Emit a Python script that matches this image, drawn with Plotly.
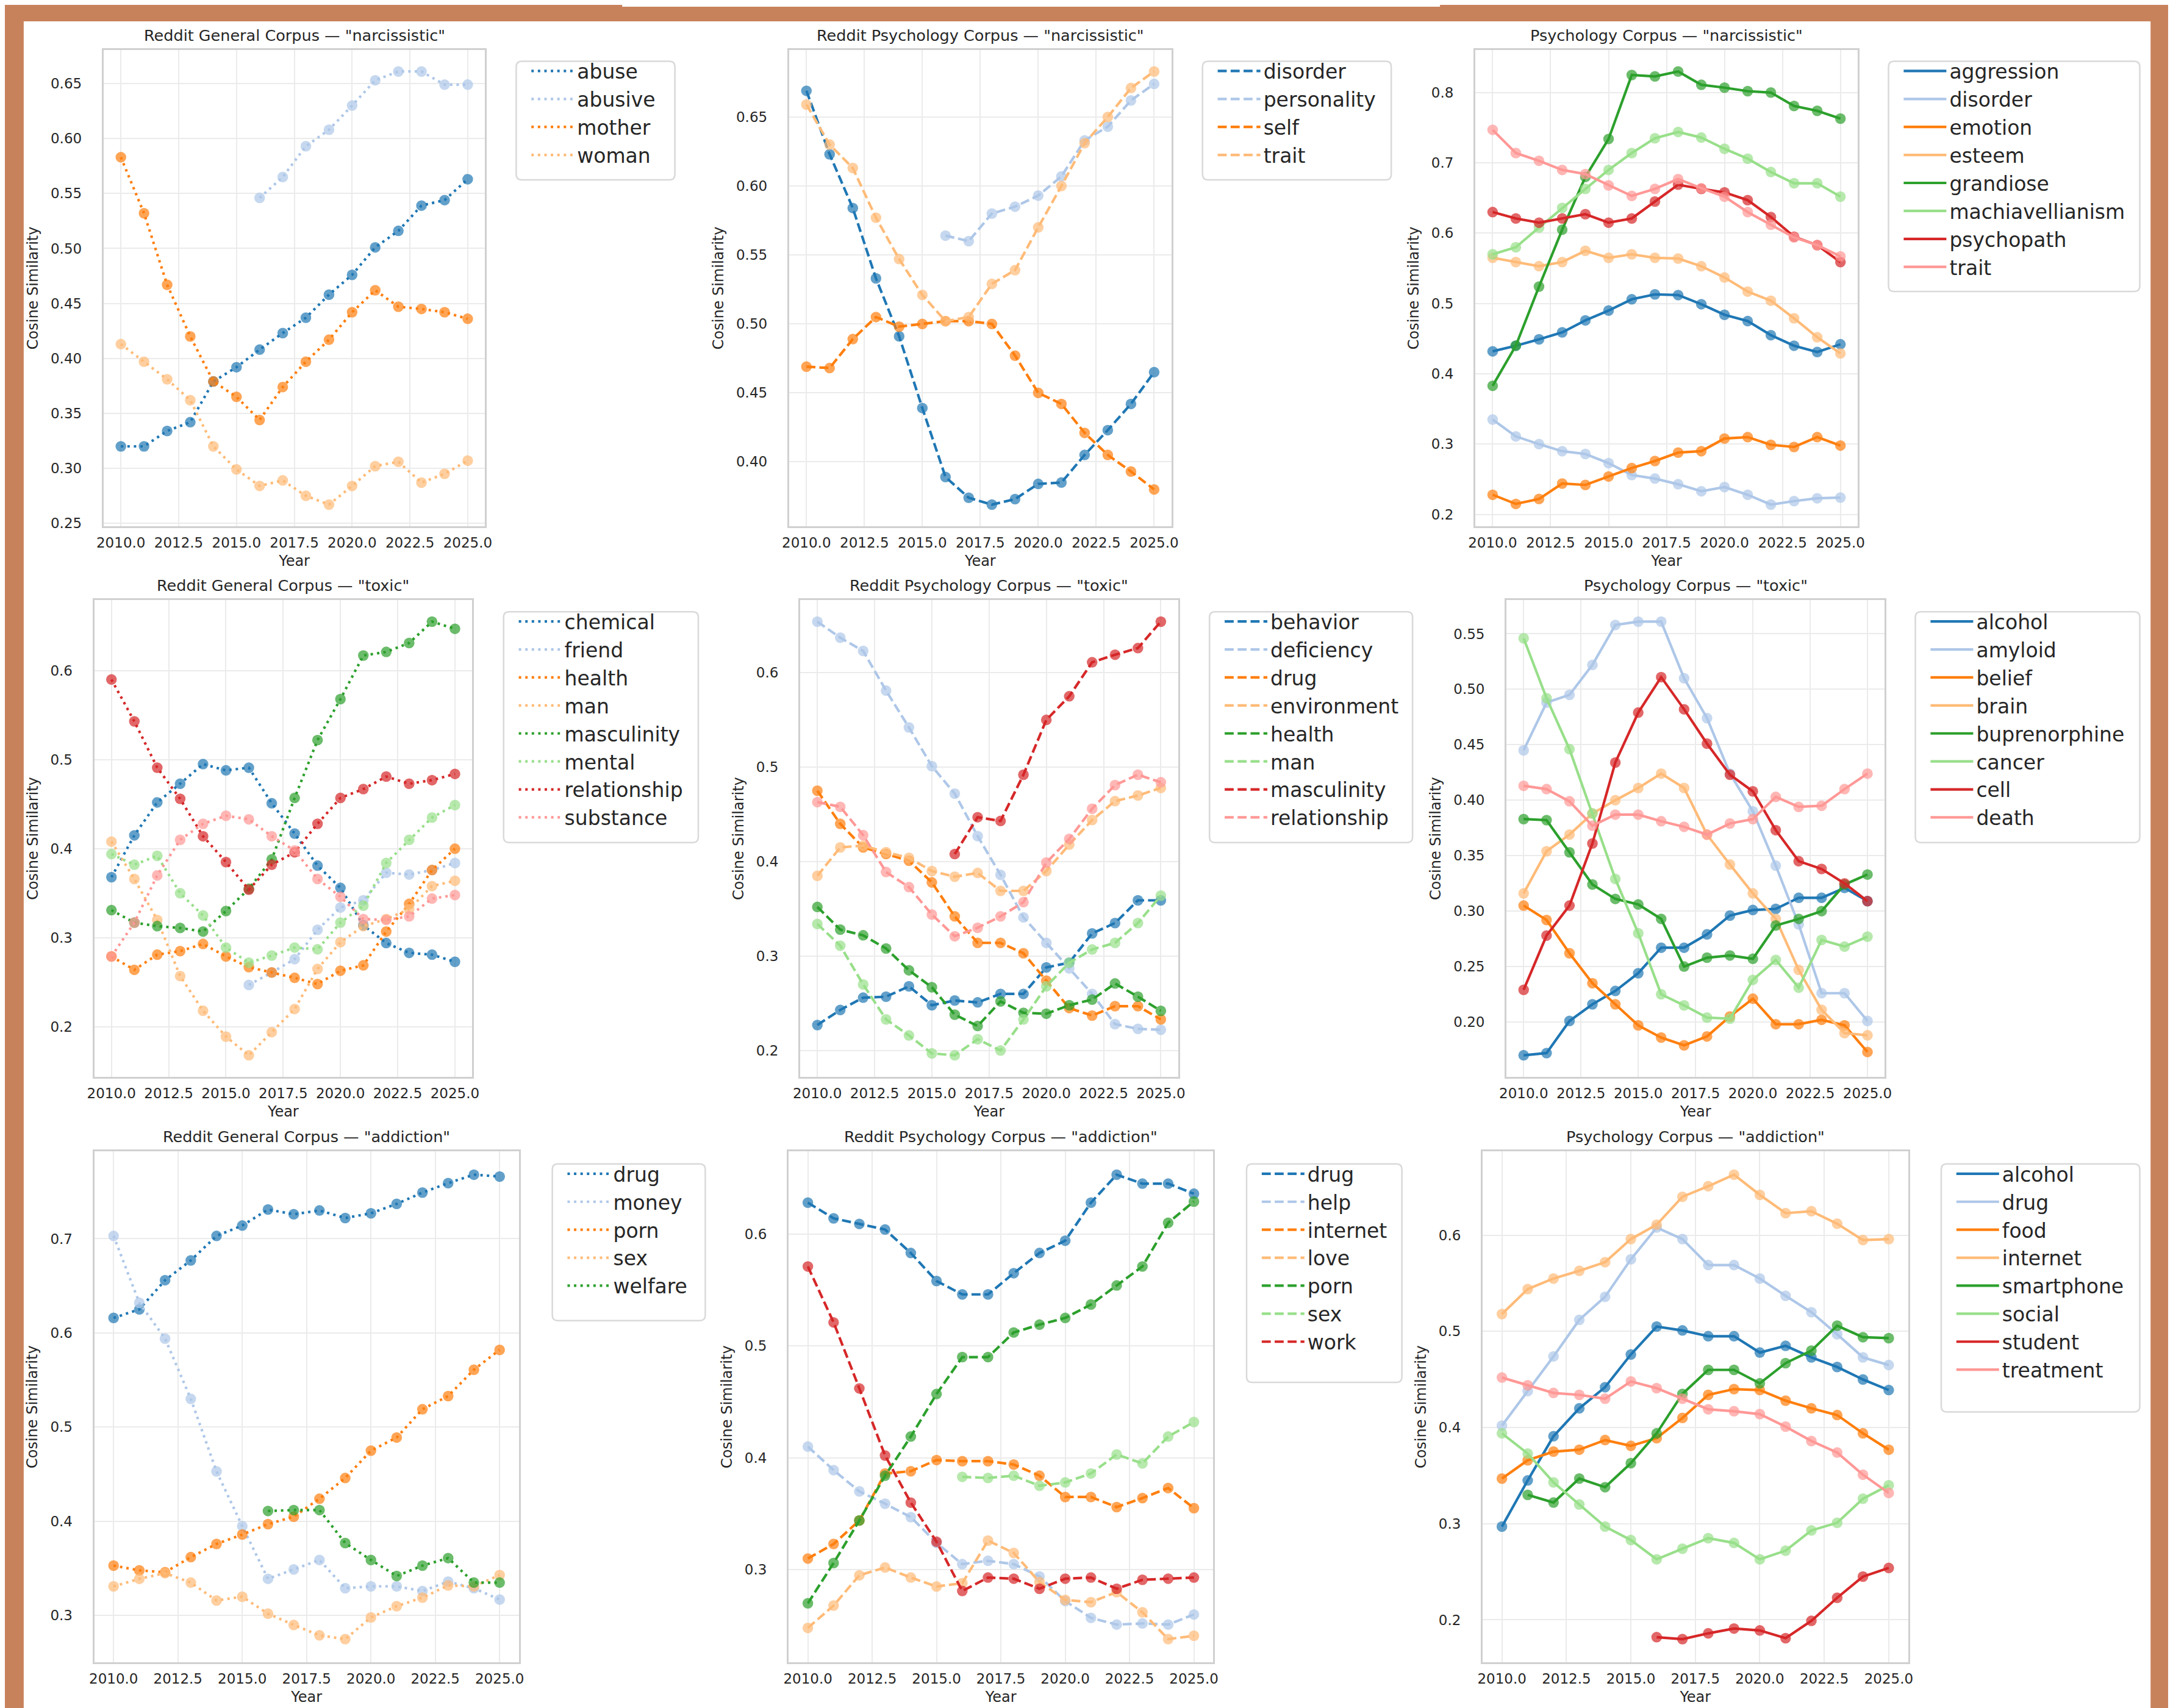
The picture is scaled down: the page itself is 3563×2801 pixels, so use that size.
import plotly.graph_objects as go

W, H = 3563, 2801
N = None

YEARS = list(range(2010, 2026))
X_TICKS = [2010.0, 2012.5, 2015.0, 2017.5, 2020.0, 2022.5, 2025.0]
X_TICK_LABELS = ["2010.0", "2012.5", "2015.0", "2017.5", "2020.0", "2022.5", "2025.0"]
COLORS = ["#1f77b4", "#aec7e8", "#ff7f0e", "#ffbb78", "#2ca02c", "#98df8a", "#d62728", "#ff9896"]

# ---------------- Reddit General Corpus — "narcissistic"
GN_TERMS = ["abuse", "abusive", "mother", "woman"]
GN_ABUSE = [0.320, 0.320, 0.334, 0.342, 0.379, 0.392, 0.408, 0.423, 0.437, 0.458, 0.476, 0.501, 0.516, 0.539, 0.544, 0.563]
GN_ABUSIVE = [N, N, N, N, N, N, 0.546, 0.565, 0.593, 0.608, 0.630, 0.653, 0.661, 0.661, 0.649, 0.649]
GN_MOTHER = [0.583, 0.532, 0.467, 0.420, 0.379, 0.365, 0.344, 0.374, 0.397, 0.417, 0.442, 0.462, 0.447, 0.445, 0.442, 0.436]
GN_WOMAN = [0.413, 0.397, 0.381, 0.362, 0.320, 0.299, 0.284, 0.289, 0.275, 0.267, 0.284, 0.302, 0.306, 0.287, 0.295, 0.307]
GN_YTICKS = [0.25, 0.30, 0.35, 0.40, 0.45, 0.50, 0.55, 0.60, 0.65]

# ---------------- Reddit Psychology Corpus — "narcissistic"
RN_TERMS = ["disorder", "personality", "self", "trait"]
RN_DISORDER = [0.669, 0.623, 0.584, 0.533, 0.491, 0.439, 0.389, 0.374, 0.369, 0.373, 0.384, 0.385, 0.405, 0.423, 0.442, 0.465]
RN_PERSONALITY = [N, N, N, N, N, N, 0.564, 0.560, 0.580, 0.585, 0.593, 0.607, 0.633, 0.643, 0.662, 0.674]
RN_SELF = [0.469, 0.468, 0.489, 0.505, 0.498, 0.500, 0.502, 0.502, 0.500, 0.477, 0.450, 0.442, 0.421, 0.405, 0.393, 0.380]
RN_TRAIT = [0.659, 0.630, 0.613, 0.577, 0.547, 0.521, 0.502, 0.505, 0.529, 0.539, 0.570, 0.600, 0.631, 0.650, 0.671, 0.683]
RN_YTICKS = [0.40, 0.45, 0.50, 0.55, 0.60, 0.65]

# ---------------- Psychology Corpus — "narcissistic"
PN_TERMS = ["aggression", "disorder", "emotion", "esteem", "grandiose", "machiavellianism", "psychopath", "trait"]
PN_AGGRESSION = [0.432, 0.440, 0.449, 0.459, 0.476, 0.490, 0.506, 0.513, 0.512, 0.499, 0.484, 0.475, 0.455, 0.440, 0.431, 0.442]
PN_DISORDER = [0.335, 0.311, 0.300, 0.290, 0.286, 0.273, 0.256, 0.251, 0.243, 0.233, 0.239, 0.228, 0.214, 0.219, 0.223, 0.224]
PN_EMOTION = [0.228, 0.215, 0.222, 0.244, 0.242, 0.254, 0.266, 0.276, 0.288, 0.290, 0.308, 0.310, 0.299, 0.296, 0.310, 0.298]
PN_ESTEEM = [0.565, 0.559, 0.553, 0.559, 0.575, 0.565, 0.570, 0.565, 0.564, 0.553, 0.537, 0.517, 0.504, 0.479, 0.452, 0.429]
PN_GRANDIOSE = [0.383, 0.440, 0.524, 0.605, 0.680, 0.734, 0.825, 0.823, 0.830, 0.811, 0.807, 0.802, 0.800, 0.781, 0.774, 0.763]
PN_MACHIAVELLIANISM = [0.570, 0.580, 0.608, 0.636, 0.663, 0.690, 0.714, 0.735, 0.744, 0.736, 0.720, 0.706, 0.687, 0.671, 0.671, 0.652]
PN_PSYCHOPATH = [0.630, 0.621, 0.615, 0.621, 0.627, 0.615, 0.621, 0.645, 0.669, 0.663, 0.658, 0.647, 0.623, 0.595, 0.583, 0.559]
PN_TRAIT = [0.747, 0.714, 0.703, 0.690, 0.684, 0.668, 0.653, 0.663, 0.677, 0.664, 0.652, 0.630, 0.612, 0.594, 0.583, 0.567]
PN_YTICKS = [0.2, 0.3, 0.4, 0.5, 0.6, 0.7, 0.8]

# ---------------- Reddit General Corpus — "toxic"
GT_TERMS = ["chemical", "friend", "health", "man", "masculinity", "mental", "relationship", "substance"]
GT_CHEMICAL = [0.368, 0.415, 0.452, 0.473, 0.495, 0.488, 0.491, 0.451, 0.417, 0.381, 0.356, 0.314, 0.294, 0.283, 0.281, 0.273]
GT_FRIEND = [N, N, N, N, N, N, 0.247, 0.261, 0.276, 0.309, 0.334, 0.342, 0.373, 0.371, 0.376, 0.384]
GT_HEALTH = [0.279, 0.264, 0.281, 0.285, 0.293, 0.279, 0.267, 0.261, 0.255, 0.248, 0.263, 0.269, 0.307, 0.338, 0.376, 0.400]
GT_MAN = [0.408, 0.366, 0.320, 0.257, 0.218, 0.189, 0.168, 0.194, 0.220, 0.265, 0.295, 0.313, 0.321, 0.332, 0.358, 0.364]
GT_MASCULINITY = [0.331, 0.317, 0.313, 0.311, 0.307, 0.330, 0.355, 0.388, 0.457, 0.522, 0.568, 0.617, 0.621, 0.631, 0.655, 0.647]
GT_MENTAL = [0.394, 0.382, 0.392, 0.350, 0.325, 0.289, 0.272, 0.280, 0.289, 0.287, 0.317, 0.336, 0.384, 0.410, 0.435, 0.449]
GT_RELATIONSHIP = [0.590, 0.543, 0.491, 0.456, 0.414, 0.385, 0.354, 0.382, 0.396, 0.428, 0.457, 0.467, 0.481, 0.473, 0.477, 0.484]
GT_SUBSTANCE = [0.279, 0.317, 0.370, 0.410, 0.428, 0.437, 0.433, 0.414, 0.398, 0.366, 0.346, 0.321, 0.320, 0.324, 0.344, 0.348]
GT_YTICKS = [0.2, 0.3, 0.4, 0.5, 0.6]

# ---------------- Reddit Psychology Corpus — "toxic"
RT_TERMS = ["behavior", "deficiency", "drug", "environment", "health", "man", "masculinity", "relationship"]
RT_BEHAVIOR = [0.227, 0.243, 0.256, 0.257, 0.268, 0.248, 0.253, 0.251, 0.260, 0.260, 0.288, 0.293, 0.324, 0.335, 0.359, 0.359]
RT_DEFICIENCY = [0.654, 0.637, 0.623, 0.581, 0.542, 0.501, 0.472, 0.427, 0.386, 0.341, 0.314, 0.287, 0.260, 0.228, 0.223, 0.222]
RT_DRUG = [0.475, 0.440, 0.415, 0.408, 0.401, 0.378, 0.342, 0.314, 0.314, 0.303, 0.274, 0.245, 0.237, 0.247, 0.247, 0.233]
RT_ENVIRONMENT = [0.385, 0.415, 0.417, 0.410, 0.404, 0.390, 0.384, 0.388, 0.369, 0.369, 0.390, 0.418, 0.444, 0.464, 0.470, 0.478]
RT_HEALTH = [0.352, 0.328, 0.322, 0.308, 0.285, 0.267, 0.238, 0.226, 0.252, 0.240, 0.239, 0.248, 0.254, 0.271, 0.257, 0.242]
RT_MAN = [0.334, 0.311, 0.270, 0.233, 0.216, 0.197, 0.195, 0.212, 0.200, 0.233, 0.268, 0.293, 0.307, 0.314, 0.335, 0.364]
RT_MASCULINITY = [N, N, N, N, N, N, 0.408, 0.447, 0.443, 0.492, 0.550, 0.575, 0.611, 0.619, 0.626, 0.654]
RT_RELATIONSHIP = [0.463, 0.458, 0.428, 0.389, 0.373, 0.344, 0.321, 0.330, 0.342, 0.357, 0.399, 0.424, 0.456, 0.481, 0.492, 0.484]
RT_YTICKS = [0.2, 0.3, 0.4, 0.5, 0.6]

# ---------------- Psychology Corpus — "toxic"
PT_TERMS = ["alcohol", "amyloid", "belief", "brain", "buprenorphine", "cancer", "cell", "death"]
PT_ALCOHOL = [0.170, 0.172, 0.201, 0.216, 0.228, 0.244, 0.267, 0.267, 0.279, 0.296, 0.301, 0.302, 0.312, 0.312, 0.321, 0.309]
PT_AMYLOID = [0.445, 0.488, 0.495, 0.522, 0.558, 0.561, 0.561, 0.510, 0.474, 0.424, 0.390, 0.341, 0.288, 0.226, 0.226, 0.201]
PT_BELIEF = [0.305, 0.292, 0.262, 0.235, 0.216, 0.197, 0.186, 0.179, 0.187, 0.205, 0.221, 0.198, 0.198, 0.202, 0.197, 0.173]
PT_BRAIN = [0.316, 0.354, 0.369, 0.388, 0.400, 0.411, 0.424, 0.411, 0.369, 0.342, 0.316, 0.293, 0.247, 0.211, 0.190, 0.188]
PT_BUPRENORPHINE = [0.383, 0.382, 0.353, 0.324, 0.311, 0.306, 0.293, 0.250, 0.258, 0.260, 0.257, 0.287, 0.293, 0.300, 0.324, 0.333]
PT_CANCER = [0.546, 0.492, 0.446, 0.388, 0.329, 0.280, 0.225, 0.215, 0.204, 0.203, 0.238, 0.256, 0.231, 0.274, 0.268, 0.277]
PT_CELL = [0.229, 0.278, 0.305, 0.361, 0.434, 0.479, 0.511, 0.482, 0.451, 0.423, 0.408, 0.373, 0.345, 0.338, 0.325, 0.309]
PT_DEATH = [0.413, 0.410, 0.399, 0.377, 0.387, 0.387, 0.381, 0.376, 0.369, 0.379, 0.383, 0.403, 0.394, 0.395, 0.410, 0.424]
PT_YTICKS = [0.15, 0.20, 0.25, 0.30, 0.35, 0.40, 0.45, 0.50, 0.55]

# ---------------- Reddit General Corpus — "addiction"
GA_TERMS = ["drug", "money", "porn", "sex", "welfare"]
GA_DRUG = [0.616, 0.625, 0.656, 0.677, 0.703, 0.714, 0.731, 0.726, 0.730, 0.722, 0.727, 0.737, 0.749, 0.759, 0.768, 0.766]
GA_MONEY = [0.703, 0.632, 0.594, 0.530, 0.453, 0.395, 0.339, 0.349, 0.359, 0.329, 0.331, 0.331, 0.326, 0.336, 0.329, 0.317]
GA_PORN = [0.353, 0.348, 0.346, 0.362, 0.376, 0.386, 0.397, 0.405, 0.424, 0.446, 0.475, 0.489, 0.519, 0.533, 0.561, 0.582]
GA_SEX = [0.331, 0.339, 0.345, 0.335, 0.316, 0.320, 0.302, 0.290, 0.279, 0.275, 0.298, 0.310, 0.319, 0.332, 0.331, 0.343]
GA_WELFARE = [N, N, N, N, N, N, 0.411, 0.412, 0.412, 0.377, 0.359, 0.342, 0.353, 0.361, 0.335, 0.335]
GA_YTICKS = [0.3, 0.4, 0.5, 0.6, 0.7]

# ---------------- Reddit Psychology Corpus — "addiction"
RA_TERMS = ["drug", "help", "internet", "love", "porn", "sex", "work"]
RA_DRUG = [0.628, 0.614, 0.609, 0.604, 0.583, 0.558, 0.546, 0.546, 0.565, 0.583, 0.594, 0.628, 0.653, 0.645, 0.645, 0.636]
RA_HELP = [0.410, 0.389, 0.370, 0.359, 0.347, 0.324, 0.305, 0.308, 0.305, 0.294, 0.272, 0.257, 0.251, 0.252, 0.251, 0.260]
RA_INTERNET = [0.310, 0.323, 0.344, 0.386, 0.388, 0.398, 0.397, 0.397, 0.394, 0.384, 0.365, 0.365, 0.356, 0.364, 0.373, 0.355]
RA_LOVE = [0.248, 0.268, 0.295, 0.302, 0.293, 0.285, 0.288, 0.326, 0.315, 0.289, 0.273, 0.271, 0.280, 0.262, 0.238, 0.241]
RA_PORN = [0.270, 0.306, 0.344, 0.384, 0.419, 0.457, 0.490, 0.490, 0.512, 0.519, 0.525, 0.537, 0.554, 0.571, 0.610, 0.629]
RA_SEX = [N, N, N, N, N, N, 0.383, 0.382, 0.384, 0.375, 0.378, 0.386, 0.403, 0.395, 0.419, 0.432]
RA_WORK = [0.571, 0.521, 0.462, 0.402, 0.360, 0.325, 0.281, 0.293, 0.292, 0.283, 0.292, 0.293, 0.283, 0.291, 0.292, 0.293]
RA_YTICKS = [0.3, 0.4, 0.5, 0.6]

# ---------------- Psychology Corpus — "addiction"
PA_TERMS = ["alcohol", "drug", "food", "internet", "smartphone", "social", "student", "treatment"]
PA_ALCOHOL = [0.297, 0.345, 0.391, 0.420, 0.442, 0.476, 0.505, 0.501, 0.495, 0.495, 0.478, 0.485, 0.473, 0.463, 0.450, 0.439]
PA_DRUG = [0.402, 0.438, 0.474, 0.512, 0.536, 0.575, 0.608, 0.596, 0.569, 0.569, 0.555, 0.537, 0.520, 0.497, 0.473, 0.465]
PA_FOOD = [0.347, 0.366, 0.375, 0.377, 0.387, 0.381, 0.389, 0.410, 0.434, 0.440, 0.439, 0.428, 0.420, 0.413, 0.394, 0.377]
PA_INTERNET = [0.518, 0.544, 0.555, 0.563, 0.572, 0.596, 0.611, 0.640, 0.651, 0.663, 0.642, 0.623, 0.625, 0.612, 0.595, 0.596]
PA_SMARTPHONE = [N, 0.330, 0.322, 0.347, 0.338, 0.363, 0.394, 0.435, 0.460, 0.460, 0.446, 0.467, 0.480, 0.506, 0.494, 0.493]
PA_SOCIAL = [0.394, 0.373, 0.343, 0.320, 0.297, 0.283, 0.263, 0.274, 0.285, 0.280, 0.263, 0.272, 0.293, 0.301, 0.326, 0.340]
PA_STUDENT = [N, N, N, N, N, N, 0.182, 0.180, 0.186, 0.191, 0.189, 0.181, 0.199, 0.223, 0.245, 0.254]
PA_TREATMENT = [0.452, 0.444, 0.436, 0.434, 0.430, 0.448, 0.441, 0.430, 0.419, 0.417, 0.414, 0.401, 0.386, 0.374, 0.351, 0.332]
PA_YTICKS = [0.2, 0.3, 0.4, 0.5, 0.6]

# ---------------- panel assembly (layout boxes in pixels)
DOT = "4px,6.6px"
DASH = "14.8px,6.4px"
PANELS = [
    dict(title='Reddit General Corpus — "narcissistic"', terms=GN_TERMS,
         series=[GN_ABUSE, GN_ABUSIVE, GN_MOTHER, GN_WOMAN], yticks=GN_YTICKS, fmt="{:.2f}",
         dash=DOT, box=(150.8, 780.6, 73.9, 857.5), leg=(832, 1094, 92.7, 287.8), ty=53.3),
    dict(title='Reddit Psychology Corpus — "narcissistic"', terms=RN_TERMS,
         series=[RN_DISORDER, RN_PERSONALITY, RN_SELF, RN_TRAIT], yticks=RN_YTICKS, fmt="{:.2f}",
         dash=DASH, box=(1282.4, 1913.8, 73.9, 857.5), leg=(1965, 2276.5, 92.7, 287.8), ty=53.3),
    dict(title='Psychology Corpus — "narcissistic"', terms=PN_TERMS,
         series=[PN_AGGRESSION, PN_DISORDER, PN_EMOTION, PN_ESTEEM, PN_GRANDIOSE,
                 PN_MACHIAVELLIANISM, PN_PSYCHOPATH, PN_TRAIT], yticks=PN_YTICKS, fmt="{:.1f}",
         dash="solid", box=(2415.2, 3046.7, 73.9, 857.5), leg=(3097.4, 3512.2, 92.7, 471.4), ty=53.3),
    dict(title='Reddit General Corpus — "toxic"', terms=GT_TERMS,
         series=[GT_CHEMICAL, GT_FRIEND, GT_HEALTH, GT_MAN, GT_MASCULINITY, GT_MENTAL,
                 GT_RELATIONSHIP, GT_SUBSTANCE], yticks=GT_YTICKS, fmt="{:.1f}",
         dash=DOT, box=(135.5, 759.2, 978.7, 1763.2), leg=(811.2, 1132.6, 998, 1377.7), ty=958),
    dict(title='Reddit Psychology Corpus — "toxic"', terms=RT_TERMS,
         series=[RT_BEHAVIOR, RT_DEFICIENCY, RT_DRUG, RT_ENVIRONMENT, RT_HEALTH, RT_MAN,
                 RT_MASCULINITY, RT_RELATIONSHIP], yticks=RT_YTICKS, fmt="{:.1f}",
         dash=DASH, box=(1300.8, 1924.5, 978.7, 1763.2), leg=(1976.5, 2311.7, 998, 1377.7), ty=958),
    dict(title='Psychology Corpus — "toxic"', terms=PT_TERMS,
         series=[PT_ALCOHOL, PT_AMYLOID, PT_BELIEF, PT_BRAIN, PT_BUPRENORPHINE, PT_CANCER,
                 PT_CELL, PT_DEATH], yticks=PT_YTICKS, fmt="{:.2f}",
         dash="solid", box=(2466.7, 3091.0, 978.7, 1763.2), leg=(3141.7, 3512.2, 998, 1377.7), ty=958),
    dict(title='Reddit General Corpus — "addiction"', terms=GA_TERMS,
         series=[GA_DRUG, GA_MONEY, GA_PORN, GA_SEX, GA_WELFARE], yticks=GA_YTICKS, fmt="{:.1f}",
         dash=DOT, box=(135.5, 836.5, 1885.7, 2725.9), leg=(891.6, 1144.1, 1906.3, 2164), ty=1864),
    dict(title='Reddit Psychology Corpus — "addiction"', terms=RA_TERMS,
         series=[RA_DRUG, RA_HELP, RA_INTERNET, RA_LOVE, RA_PORN, RA_SEX, RA_WORK],
         yticks=RA_YTICKS, fmt="{:.1f}",
         dash=DASH, box=(1281.6, 1982.6, 1885.7, 2725.9), leg=(2037.7, 2294.1, 1906.3, 2265.4), ty=1864),
    dict(title='Psychology Corpus — "addiction"', terms=PA_TERMS,
         series=[PA_ALCOHOL, PA_DRUG, PA_FOOD, PA_INTERNET, PA_SMARTPHONE, PA_SOCIAL,
                 PA_STUDENT, PA_TREATMENT], yticks=PA_YTICKS, fmt="{:.1f}",
         dash="solid", box=(2427.3, 3129.7, 1885.7, 2725.9), leg=(3184.4, 3512.2, 1906.3, 2314.2), ty=1864),
]

FONT = "DejaVu Sans, Liberation Sans, Arial, sans-serif"
TXT = "#262626"
ORANGE = "#C8825B"


def rgba(hx, a):
    h = hx.lstrip("#")
    return "rgba({},{},{},{})".format(int(h[0:2], 16), int(h[2:4], 16), int(h[4:6], 16), a)


def px(x):
    return x / W


def py(y):
    return 1 - y / H


def rounded_box(l, r, t, b, rad=9):
    xl, xr = px(l), px(r)
    yt, yb = py(t), py(b)
    dx, dy = rad / W, rad / H
    return (f"M{xl + dx},{yt} L{xr - dx},{yt} Q{xr},{yt} {xr},{yt - dy} "
            f"L{xr},{yb + dy} Q{xr},{yb} {xr - dx},{yb} L{xl + dx},{yb} "
            f"Q{xl},{yb} {xl},{yb + dy} L{xl},{yt - dy} Q{xl},{yt} {xl + dx},{yt} Z")


fig = go.Figure()
shapes = [
    dict(type="rect", xref="paper", yref="paper", x0=px(19), x1=px(3530), y0=0, y1=py(27),
         fillcolor="white", line=dict(width=0), layer="below"),
    dict(type="rect", xref="paper", yref="paper", x0=px(1007), x1=px(2357), y0=py(3), y1=1,
         fillcolor="white", line=dict(width=0), layer="below"),
]
layout = dict(
    width=W, height=H, autosize=False,
    margin=dict(l=0, r=0, t=0, b=0, pad=0),
    paper_bgcolor=ORANGE, plot_bgcolor="white",
    font=dict(family=FONT, color=TXT),
    showlegend=True,
    annotations=[],
)

for i, p in enumerate(PANELS):
    k = i + 1
    sfx = "" if k == 1 else str(k)
    l, r, t, b = p["box"]
    vals = [v for s in p["series"] for v in s if v is not None]
    lo, hi = min(vals), max(vals)
    pad = 0.05 * (hi - lo)
    lw = 4.2
    for j, (term, s) in enumerate(zip(p["terms"], p["series"])):
        c = COLORS[j]
        fig.add_trace(go.Scatter(
            x=YEARS, y=s, mode="lines", name=term,
            line=dict(color=c, width=lw, dash=p["dash"]),
            xaxis="x" + sfx, yaxis="y" + sfx, legend="legend" + sfx,
            legendgroup=f"g{k}_{j}", showlegend=True, connectgaps=False))
        fig.add_trace(go.Scatter(
            x=YEARS, y=s, mode="markers", name=term,
            marker=dict(color=rgba(c, 0.7), size=17.5, line=dict(width=0)),
            xaxis="x" + sfx, yaxis="y" + sfx, legend="legend" + sfx,
            legendgroup=f"g{k}_{j}", showlegend=False))

    layout["xaxis" + sfx] = dict(
        domain=[px(l), px(r)], anchor="y" + sfx, range=[2009.25, 2025.75],
        tickmode="array", tickvals=X_TICKS, ticktext=X_TICK_LABELS,
        showgrid=True, gridcolor="#EBEBEB", gridwidth=2, zeroline=False,
        showline=True, linecolor="#D0D0D0", linewidth=3, mirror=True,
        ticks="outside", ticklen=4, tickcolor="rgba(0,0,0,0)",
        tickfont=dict(size=23, family=FONT, color=TXT),
        title=dict(text="Year", font=dict(size=24, family=FONT, color=TXT), standoff=10),
    )
    layout["yaxis" + sfx] = dict(
        domain=[py(b), py(t)], anchor="x" + sfx, range=[lo - pad, hi + pad],
        tickmode="array", tickvals=p["yticks"], ticktext=[p["fmt"].format(v) for v in p["yticks"]],
        showgrid=True, gridcolor="#EBEBEB", gridwidth=2, zeroline=False,
        showline=True, linecolor="#D0D0D0", linewidth=3, mirror=True,
        ticks="outside", ticklen=28, tickcolor="rgba(0,0,0,0)",
        tickfont=dict(size=23, family=FONT, color=TXT),
        title=dict(text="Cosine Similarity", font=dict(size=24, family=FONT, color=TXT), standoff=14),
    )
    ll, lr, lt, lb = p["leg"]
    shapes.append(dict(type="path", xref="paper", yref="paper", path=rounded_box(ll, lr, lt, lb),
                       fillcolor="white", line=dict(color="#D9D9D9", width=2.5), layer="above"))
    layout["legend" + sfx] = dict(
        x=px(ll + 20), y=py(lt - 12), xanchor="left", yanchor="top",
        bgcolor="rgba(0,0,0,0)", borderwidth=0,
        font=dict(size=33, family=FONT, color=TXT), tracegroupgap=0,
        traceorder="normal", itemwidth=70,
    )
    layout["annotations"].append(dict(
        text=p["title"], xref="paper", yref="paper", x=px((l + r) / 2), y=py(p["ty"] - 3),
        xanchor="center", yanchor="middle", showarrow=False,
        font=dict(size=25.5, family=FONT, color=TXT)))

layout["shapes"] = shapes
fig.update_layout(**layout)
fig.write_html("out.html")
